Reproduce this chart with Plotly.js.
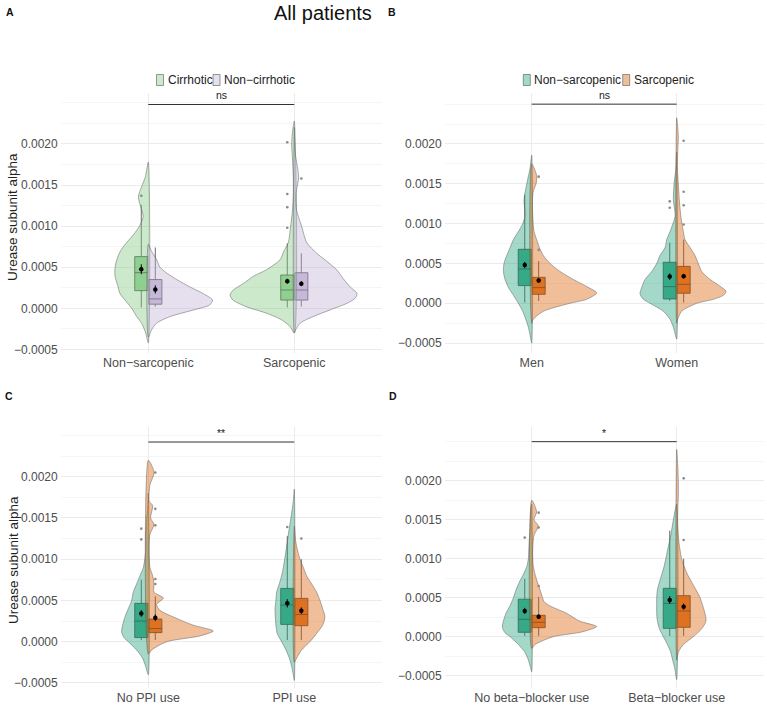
<!DOCTYPE html>
<html>
<head>
<meta charset="utf-8">
<script src="https://cdn.plot.ly/plotly-3.0.1.min.js"></script>
<style>html,body{margin:0;padding:0;background:#fff}#chart{width:767px;height:706px}</style>
</head>
<body>
<div id="chart"></div>
<script>
// ---------------- Panel A: cirrhosis status within sarcopenia groups ----------------
const catsA = ['Non\u2212sarcopenic', 'Sarcopenic'];
const groupsA = ['Cirrhotic', 'Non\u2212cirrhotic'];
// half-violin profiles per category: [value, half-width in category units]
const densA_cirr = [
  [[0.00178,0],[0.0016,0.02],[0.00148,0.046],[0.00136,0.068],[0.00125,0.055],[0.00112,0.035],[0.001,0.06],[0.0009,0.1],[0.0008,0.148],[0.0007,0.19],[0.00059,0.216],[0.00049,0.228],[0.00039,0.228],[0.00028,0.21],[0.00018,0.194],[0.00008,0.15],[0,0.114],[-0.0001,0.08],[-0.00018,0.046],[-0.0003,0.018],[-0.00042,0]],
  [[0.00228,0],[0.00215,0.012],[0.002,0.018],[0.0018,0.012],[0.0016,0.007],[0.0014,0.007],[0.0012,0.012],[0.001,0.025],[0.0008,0.041],[0.0007,0.07],[0.00059,0.098],[0.00047,0.19],[0.00039,0.28],[0.0003,0.35],[0.00022,0.42],[0.00016,0.44],[0.0001,0.42],[0.00002,0.33],[-0.00006,0.19],[-0.00014,0.087],[-0.00022,0.03],[-0.0003,0]]
];
const densA_nonc = [
  [[0.00078,0],[0.0007,0.02],[0.0006,0.055],[0.0005,0.08],[0.00043,0.125],[0.00035,0.195],[0.00026,0.285],[0.00018,0.375],[0.0001,0.44],[0.00004,0.42],[-0.00002,0.31],[-0.0001,0.15],[-0.00018,0.057],[-0.00026,0.023],[-0.00035,0]],
  [[0.0022,0],[0.0019,0.005],[0.0016,0.03],[0.0014,0.012],[0.0012,0.015],[0.001,0.05],[0.0008,0.085],[0.00067,0.153],[0.00059,0.21],[0.00047,0.29],[0.00035,0.34],[0.00026,0.383],[0.00018,0.43],[0.00012,0.415],[0.00006,0.36],[-0.00002,0.245],[-0.0001,0.13],[-0.00018,0.04],[-0.00026,0.01],[-0.0003,0]]
];
// box statistics per category: [lower whisker, q1, median, q3, upper whisker, mean, se]
const statsA_cirr = [[0.00001,0.000215,0.000434,0.000629,0.00126,0.000475,0.00006],[0.00001,0.0001,0.000223,0.000405,0.00079,0.00033,0.00003]];
const statsA_nonc = [[0.00002,0.00005,0.000114,0.00035,0.00074,0.00023,0.00005],[0.00002,0.0001,0.000223,0.000433,0.00067,0.0003,0.00003]];
const outA_cirr = [[0.00137],[0.00202,0.00139,0.00123,0.00098]];
const outA_nonc = [[],[0.00158]];

// ---------------- Panel B: sarcopenia within sex ----------------
const catsB = ['Men', 'Women'];
const groupsSarc = ['Non\u2212sarcopenic', 'Sarcopenic'];
const densB_non = [
  [[0.00186,0],[0.0017,0.011],[0.0015,0.034],[0.0013,0.053],[0.0011,0.046],[0.001,0.062],[0.0009,0.092],[0.0008,0.126],[0.0007,0.149],[0.0006,0.172],[0.0005,0.191],[0.0004,0.195],[0.0003,0.184],[0.0002,0.161],[0.0001,0.126],[0,0.092],[-0.0001,0.062],[-0.0002,0.041],[-0.0003,0.023],[-0.0004,0.011],[-0.0005,0]],
  [[0.0019,0],[0.0017,0.005],[0.0015,0.018],[0.0013,0.023],[0.0011,0.011],[0.0009,0.046],[0.0008,0.069],[0.0007,0.08],[0.0006,0.115],[0.0005,0.138],[0.0004,0.172],[0.0003,0.218],[0.0002,0.241],[0.00012,0.253],[0.00005,0.23],[0,0.184],[-0.0001,0.092],[-0.0002,0.046],[-0.0003,0.023],[-0.0004,0.009],[-0.00045,0]]
];
const densB_sar = [
  [[0.00175,0],[0.0016,0.035],[0.0015,0.03],[0.0014,0.01],[0.0012,0.005],[0.001,0.01],[0.0009,0.016],[0.0008,0.034],[0.0007,0.053],[0.0006,0.08],[0.0005,0.126],[0.0004,0.195],[0.0003,0.287],[0.0002,0.39],[0.00013,0.448],[0.00005,0.379],[0,0.264],[-0.0001,0.08],[-0.0002,0.011],[-0.00025,0]],
  [[0.00233,0],[0.0021,0.011],[0.0019,0.007],[0.0017,0.005],[0.0015,0.011],[0.0013,0.018],[0.0011,0.028],[0.0009,0.046],[0.0008,0.057],[0.0007,0.092],[0.0006,0.126],[0.0005,0.149],[0.0004,0.172],[0.0003,0.23],[0.0002,0.31],[0.00015,0.34],[0.0001,0.322],[0.00005,0.253],[0,0.138],[-0.0001,0.034],[-0.0002,0.007],[-0.00025,0]]
];
const statsB_non = [[0.00001,0.000222,0.000431,0.000678,0.00136,0.00048,0.00004],[0.00003,0.000054,0.000209,0.000515,0.00076,0.000335,0.00004]];
const statsB_sar = [[0.00003,0.000113,0.000197,0.000326,0.00053,0.000285,0.00003],[0.00001,0.000126,0.000238,0.000464,0.0008,0.00034,0.00003]];
const outB_non = [[],[0.00128,0.0012]];
const outB_sar = [[0.00159,0.00067],[0.00204,0.0014,0.00123,0.00099]];

// ---------------- Panel C: sarcopenia by PPI use ----------------
const catsC = ['No PPI use', 'PPI use'];
const densC_non = [
  [[0.0018,0],[0.0016,0.005],[0.0015,0.011],[0.0013,0.018],[0.0011,0.018],[0.0009,0.034],[0.0008,0.057],[0.0007,0.08],[0.0006,0.103],[0.0005,0.114],[0.0004,0.137],[0.0003,0.16],[0.0002,0.176],[0.00012,0.183],[0.00005,0.167],[0,0.137],[-0.0001,0.08],[-0.0002,0.039],[-0.0003,0.018],[-0.0004,0]],
  [[0.00185,0],[0.0017,0.007],[0.0015,0.023],[0.0013,0.041],[0.0011,0.057],[0.0009,0.075],[0.0008,0.087],[0.0007,0.103],[0.0006,0.121],[0.0005,0.126],[0.0004,0.132],[0.0003,0.13],[0.0002,0.126],[0.0001,0.117],[0,0.087],[-0.0001,0.057],[-0.0002,0.034],[-0.0003,0.018],[-0.0004,0.007],[-0.00047,0]]
];
const densC_sar = [
  [[0.0022,0],[0.00205,0.04],[0.0019,0.011],[0.0017,0.007],[0.00165,0.03],[0.0015,0.016],[0.00142,0.039],[0.0013,0.011],[0.0011,0.005],[0.0009,0.011],[0.0008,0.03],[0.0007,0.039],[0.0006,0.039],[0.00053,0.103],[0.00045,0.057],[0.00038,0.08],[0.0003,0.171],[0.0002,0.308],[0.00013,0.445],[0.00007,0.354],[0,0.126],[-0.0001,0.023],[-0.00015,0]],
  [[0.0014,0],[0.0012,0.011],[0.001,0.039],[0.0009,0.062],[0.0008,0.084],[0.0007,0.119],[0.0006,0.153],[0.0005,0.176],[0.0004,0.194],[0.0003,0.21],[0.0002,0.194],[0.0001,0.153],[0,0.107],[-0.0001,0.05],[-0.0002,0.016],[-0.00025,0]]
];
const statsC_non = [[0.00002,0.00005,0.00025,0.000465,0.00075,0.000343,0.00004],[0.00002,0.00021,0.000444,0.000646,0.00128,0.000465,0.00005]];
const statsC_sar = [[0.00002,0.00011,0.00016,0.000275,0.00055,0.00029,0.00004],[0.00002,0.000194,0.00033,0.000525,0.001,0.000376,0.00004]];
const outC_non = [[0.00137,0.00124],[0.00139]];
const outC_sar = [[0.00205,0.00161,0.00141,0.00076,0.0007],[0.00125]];

// ---------------- Panel D: sarcopenia by beta-blocker use ----------------
const catsD = ['No beta\u2212blocker use', 'Beta\u2212blocker use'];
const densD_non = [
  [[0.0017,0],[0.0016,0.007],[0.0014,0.011],[0.0012,0.018],[0.001,0.023],[0.0009,0.034],[0.0008,0.057],[0.0007,0.085],[0.0006,0.108],[0.0005,0.126],[0.0004,0.149],[0.0003,0.177],[0.0002,0.195],[0.00012,0.202],[0.00005,0.184],[0,0.149],[-0.0001,0.092],[-0.0002,0.046],[-0.0003,0.023],[-0.0004,0.007],[-0.00045,0]],
  [[0.0017,0],[0.0015,0.023],[0.0013,0.041],[0.0011,0.064],[0.0009,0.087],[0.0008,0.103],[0.0007,0.119],[0.0006,0.133],[0.0005,0.138],[0.0004,0.138],[0.0003,0.138],[0.0002,0.133],[0.0001,0.119],[0,0.092],[-0.0001,0.064],[-0.0002,0.041],[-0.0003,0.028],[-0.0004,0.014],[-0.00055,0]]
];
const densD_sar = [
  [[0.00175,0],[0.0016,0.034],[0.0015,0.016],[0.00142,0.046],[0.0013,0.016],[0.0011,0.007],[0.0009,0.011],[0.0008,0.023],[0.0007,0.039],[0.0006,0.057],[0.0005,0.075],[0.00045,0.085],[0.0004,0.12],[0.0003,0.24],[0.0002,0.33],[0.00013,0.448],[0.00006,0.345],[0,0.149],[-0.0001,0.023],[-0.00015,0]],
  [[0.0024,0],[0.0022,0.007],[0.002,0.011],[0.0018,0.011],[0.0016,0.007],[0.0014,0.007],[0.0012,0.016],[0.001,0.034],[0.0009,0.051],[0.0008,0.074],[0.0007,0.103],[0.0006,0.133],[0.0005,0.161],[0.0004,0.179],[0.0003,0.195],[0.0002,0.202],[0.0001,0.172],[0,0.115],[-0.0001,0.046],[-0.0002,0.011],[-0.0003,0]]
];
const statsD_non = [[0.00001,0.000056,0.000222,0.00048,0.00074,0.00033,0.00004],[0.00001,0.000107,0.000427,0.00062,0.00136,0.00047,0.00005]];
const statsD_sar = [[0.00001,0.000115,0.000184,0.000274,0.00051,0.000256,0.00003],[0.00001,0.00012,0.00033,0.000526,0.001,0.000385,0.00004]];
const outD_non = [[0.00127],[]];
const outD_sar = [[0.00159,0.0014,0.00065],[0.00203,0.00124]];

// significance brackets (A, B, C, D)
const sigY = [0.00248, 0.0025, 0.00242, 0.0025];
const sigLabel = ['ns', 'ns', '**', '*'];

// y-axis breaks
const yTicks = [-0.0005, 0, 0.0005, 0.001, 0.0015, 0.002];
const yTickText = ['\u22120.0005', '0.0000', '0.0005', '0.0010', '0.0015', '0.0020'];

// ---------------- styling ----------------
const FONT = 'Liberation Sans, Arial, Helvetica, sans-serif';
const W = 767, H = 706;
const COL = {cirr: [127,201,127], nonc: [190,174,212], non: [27,158,119], sar: [217,95,2]};
const rgba = (c, a) => `rgba(${c[0]},${c[1]},${c[2]},${a})`;
const BOX_OFF = 0.048, BOX_W = 0.09;
const px = v => v / W;
const py = v => 1 - v / H;

const traces = [];

function addPanel(xa, ya, groups) {
  // half violins
  groups.forEach(g => {
    g.dens.forEach((d, i) => {
      const c = i + 1;
      const xs = d.map(p => c + g.side * p[1]);
      const ys = d.map(p => p[0]);
      xs.push(c); ys.push(d[0][0]);
      traces.push({type: 'scatter', mode: 'lines', x: xs, y: ys, xaxis: xa, yaxis: ya,
        fill: 'toself', fillcolor: rgba(g.col, 0.4),
        line: {color: '#5f5f5f', width: 0.5, shape: 'spline', smoothing: 0.7},
        hoverinfo: 'skip', showlegend: false});
    });
  });
  // boxes
  groups.forEach(g => {
    const pos = g.stats.map((s, i) => i + 1 + g.side * BOX_OFF);
    traces.push({type: 'box', x: pos, xaxis: xa, yaxis: ya,
      lowerfence: g.stats.map(s => s[0]), q1: g.stats.map(s => s[1]),
      median: g.stats.map(s => s[2]), q3: g.stats.map(s => s[3]),
      upperfence: g.stats.map(s => s[4]),
      width: BOX_W, whiskerwidth: 0, boxpoints: false,
      fillcolor: rgba(g.col, 0.8), line: {color: '#444', width: 0.8},
      hoverinfo: 'skip', showlegend: false});
  });
  // outliers
  groups.forEach(g => {
    const ox = [], oy = [];
    g.out.forEach((vals, i) => vals.forEach(v => { ox.push(i + 1 + g.side * BOX_OFF); oy.push(v); }));
    traces.push({type: 'scatter', mode: 'markers', x: ox, y: oy, xaxis: xa, yaxis: ya,
      marker: {color: '#8a8a8a', size: 2.6}, hoverinfo: 'skip', showlegend: false});
  });
  // means with error bars
  groups.forEach(g => {
    traces.push({type: 'scatter', mode: 'markers', xaxis: xa, yaxis: ya,
      x: g.stats.map((s, i) => i + 1 + g.side * BOX_OFF), y: g.stats.map(s => s[5]),
      error_y: {type: 'data', array: g.stats.map(s => s[6]), color: '#000', thickness: 1, width: 0},
      marker: {color: '#000', size: 4.5}, hoverinfo: 'skip', showlegend: false});
  });
}

function addBracket(xa, ya, k) {
  traces.push({type: 'scatter', mode: 'lines', x: [1, 2], y: [sigY[k], sigY[k]], xaxis: xa, yaxis: ya,
    line: {color: '#333', width: 1}, hoverinfo: 'skip', showlegend: false});
}

addPanel('x', 'y', [
  {side: -1, col: COL.cirr, dens: densA_cirr, stats: statsA_cirr, out: outA_cirr},
  {side: 1, col: COL.nonc, dens: densA_nonc, stats: statsA_nonc, out: outA_nonc}]);
addPanel('x2', 'y2', [
  {side: -1, col: COL.non, dens: densB_non, stats: statsB_non, out: outB_non},
  {side: 1, col: COL.sar, dens: densB_sar, stats: statsB_sar, out: outB_sar}]);
addPanel('x3', 'y3', [
  {side: -1, col: COL.non, dens: densC_non, stats: statsC_non, out: outC_non},
  {side: 1, col: COL.sar, dens: densC_sar, stats: statsC_sar, out: outC_sar}]);
addPanel('x4', 'y4', [
  {side: -1, col: COL.non, dens: densD_non, stats: statsD_non, out: outD_non},
  {side: 1, col: COL.sar, dens: densD_sar, stats: statsD_sar, out: outD_sar}]);
addBracket('x', 'y', 0);
addBracket('x2', 'y2', 1);
addBracket('x3', 'y3', 2);
addBracket('x4', 'y4', 3);

// axes
const colLeft = [px(60.7), px(381.9)];
const colRight = [px(444.7), px(763.7)];
const rowTop = [py(353), py(93)];
const rowBot = [py(688), py(427)];

function xAxis(dom, anchor, cats) {
  return {domain: dom, anchor: anchor, range: [0.4, 2.6], tickvals: [1, 2], ticktext: cats,
    showgrid: true, gridcolor: '#ebebeb', gridwidth: 1, zeroline: false, showline: false,
    ticks: '', tickfont: {family: FONT, size: 12.5, color: '#4d4d4d'}, fixedrange: true};
}
function yAxis(dom, anchor, range) {
  return {domain: dom, anchor: anchor, range: range, tickvals: yTicks, ticktext: yTickText,
    showgrid: true, gridcolor: '#ebebeb', gridwidth: 1, zeroline: false, showline: false,
    ticks: '', ticklabelstandoff: 2, tickfont: {family: FONT, size: 12, color: '#4d4d4d'},
    minor: {dtick: 0.00025, tick0: 0, showgrid: true, gridcolor: '#f3f3f3', gridwidth: 0.8},
    fixedrange: true};
}

const annotations = [];
const shapes = [];
// significance labels
[['x', 'y'], ['x2', 'y2'], ['x3', 'y3'], ['x4', 'y4']].forEach((a, k) => {
  annotations.push({xref: a[0], yref: a[1], x: 1.5, y: sigY[k], text: sigLabel[k], showarrow: false,
    yanchor: 'bottom', yshift: 1, font: {family: FONT, size: 10.5, color: '#222'}});
});
// title and panel letters
annotations.push({xref: 'paper', yref: 'paper', x: px(323), y: py(13), text: 'All patients', showarrow: false,
  xanchor: 'center', yanchor: 'middle', font: {family: FONT, size: 20, color: '#111'}});
[['A', 10, 12], ['B', 392, 12], ['C', 9, 396], ['D', 393, 396]].forEach(l => {
  annotations.push({xref: 'paper', yref: 'paper', x: px(l[1]), y: py(l[2]), text: '<b>' + l[0] + '</b>',
    showarrow: false, xanchor: 'center', yanchor: 'middle', font: {family: FONT, size: 10.5, color: '#111'}});
});
// y titles
[217, 560].forEach(yc => {
  annotations.push({xref: 'paper', yref: 'paper', x: px(13), y: py(yc), text: 'Urease subunit alpha',
    textangle: -90, showarrow: false, xanchor: 'center', yanchor: 'middle',
    font: {family: FONT, size: 13.5, color: '#222'}});
});
// legends
function legendItem(x0, label, col) {
  shapes.push({type: 'rect', xref: 'paper', yref: 'paper', x0: px(x0), x1: px(x0 + 7), y0: py(85.5), y1: py(74.5),
    fillcolor: rgba(col, 0.4), line: {color: '#555', width: 0.6}});
  annotations.push({xref: 'paper', yref: 'paper', x: px(x0 + 9), y: py(80), text: label, showarrow: false,
    xanchor: 'left', yanchor: 'middle', font: {family: FONT, size: 12, color: '#222'}});
}
legendItem(156.5, groupsA[0], COL.cirr);
legendItem(213, groupsA[1], COL.nonc);
legendItem(523.3, groupsSarc[0], COL.non);
legendItem(622.7, groupsSarc[1], COL.sar);

const layout = {
  width: W, height: H, margin: {l: 0, r: 0, t: 0, b: 0},
  paper_bgcolor: '#fff', plot_bgcolor: 'rgba(0,0,0,0)', showlegend: false,
  font: {family: FONT},
  xaxis: xAxis(colLeft, 'y', catsA), yaxis: yAxis(rowTop, 'x', [-0.000544, 0.00262]),
  xaxis2: xAxis(colRight, 'y2', catsB), yaxis2: yAxis(rowTop, 'x2', [-0.000624, 0.00264]),
  xaxis3: xAxis(colLeft, 'y3', catsC), yaxis3: yAxis(rowBot, 'x3', [-0.000561, 0.002602]),
  xaxis4: xAxis(colRight, 'y4', catsD), yaxis4: yAxis(rowBot, 'x4', [-0.000658, 0.002688]),
  annotations: annotations, shapes: shapes
};

Plotly.newPlot('chart', traces, layout, {displayModeBar: false, staticPlot: true});
</script>
</body>
</html>
